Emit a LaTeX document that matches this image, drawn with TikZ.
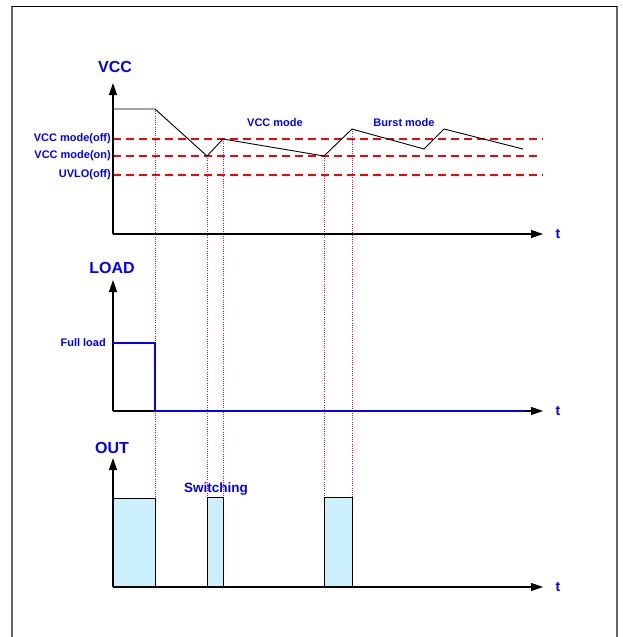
\documentclass[tikz,border=0pt]{standalone}
\usepackage{fontspec}
\setmainfont{Liberation Sans}
\usetikzlibrary{positioning,arrows.meta}
\tikzset{
  axis/.style={-{Triangle[length=12pt,width=8pt]},line width=1.2pt,black},
  thr/.style={red,dash pattern=on 8pt off 5pt,line width=1.1pt},
  guide/.style={magenta,dash pattern=on 1pt off 1.2pt,line width=1pt},
  wave/.style={black,line width=0.9pt},
  pulse/.style={draw=black,fill=cyan!20,line width=1pt},
  loadline/.style={blue,line width=1.6pt},
  ttl/.style={text=blue,font=\bfseries\fontsize{16}{18}\selectfont},
  lbl/.style={text=blue,font=\bfseries\fontsize{11}{13}\selectfont,inner sep=1pt},
  tlbl/.style={text=blue,font=\bfseries\fontsize{14}{16}\selectfont},
}
\begin{document}
\begin{tikzpicture}[x=1pt,y=-1pt]
  \useasboundingbox (0,0) rectangle (622,637);
  % frame
  \draw[black!60,line width=1.8pt] (12,640) -- (12,6);
  \draw[black!60,line width=1.8pt] (617,6) -- (617,640);
  \draw[black,line width=0.8pt] (12,6) -- (617,6);
  % points of the VCC curve and pulse tops
  \coordinate (p1) at (155,109);
  \coordinate (p2) at (207,156);
  \coordinate (p3) at (223,139);
  \coordinate (p4) at (324,156);
  \coordinate (p5) at (352,129);
  \coordinate (q1) at (155,498);
  \coordinate (q2) at (207,497);
  \coordinate (q3) at (223,497);
  \coordinate (q4) at (324,497);
  \coordinate (q5) at (352,497);
  \foreach \i in {1,...,5}
    \draw[guide] (p\i) -- (q\i);
  % VCC panel
  \coordinate (v0) at (113,234);
  \coordinate (vtop) at (113,83);
  \coordinate (vend) at (543,234);
  \coordinate (offL) at (113,139);
  \coordinate (offR) at (543,139);
  \coordinate (onL) at (113,156);
  \coordinate (onR) at (540,156);
  \coordinate (uvL) at (113,175);
  \coordinate (uvR) at (543,175);
  \draw[thr] (offL) -- (offR);
  \draw[thr] (onL) -- (onR);
  \draw[thr] (uvL) -- (uvR);
  \node[lbl,left=1pt of offL] (offlab) {VCC mode(off)};
  \node[lbl,left=1pt of onL] (onlab) {VCC mode(on)};
  \node[lbl,left=1pt of uvL] (uvlab) {UVLO(off)};
  \draw[wave] (113,109) -- (p1) -- (p2) -- (p3) -- (p4) -- (p5)
    -- (424,149) -- (444,129) -- (523,149);
  \draw[axis] (v0) -- (vtop);
  \draw[axis] (v0) -- (vend);
  \node[ttl] (vcc) at (115,67) {VCC};
  \node[tlbl,right=9pt of vend] (tv) {t};
  \node[lbl] (vmode) at (275,123) {VCC mode};
  \node[lbl] (bmode) at (404,123) {Burst mode};
  % LOAD panel
  \coordinate (l0) at (113,411);
  \coordinate (ltop) at (113,280);
  \coordinate (lend) at (543,411);
  \coordinate (full) at (113,343);
  \draw[axis] (l0) -- (ltop);
  \draw[axis] (l0) -- (lend);
  \draw[loadline] (full) -- (155,343) -- (155,411) -- (525,411);
  \node[ttl] (load) at (112,268) {LOAD};
  \node[lbl,left=6pt of full] (fulllab) {Full load};
  \node[tlbl,right=9pt of lend] (tl) {t};
  % OUT panel
  \coordinate (o0) at (113,587);
  \coordinate (otop) at (113,458);
  \coordinate (oend) at (543,587);
  \draw[pulse] (113,587) rectangle (q1);
  \draw[pulse] (q2) rectangle (223,587);
  \draw[pulse] (q4) rectangle (352,587);
  \draw[axis] (o0) -- (otop);
  \draw[axis] (o0) -- (oend);
  \node[ttl] (out) at (112,448) {OUT};
  \node[text=blue,font=\bfseries\fontsize{13.5}{15}\selectfont] (sw) at (216,489) {Switching};
  \node[tlbl,right=9pt of oend] (to) {t};
\end{tikzpicture}
\end{document}
